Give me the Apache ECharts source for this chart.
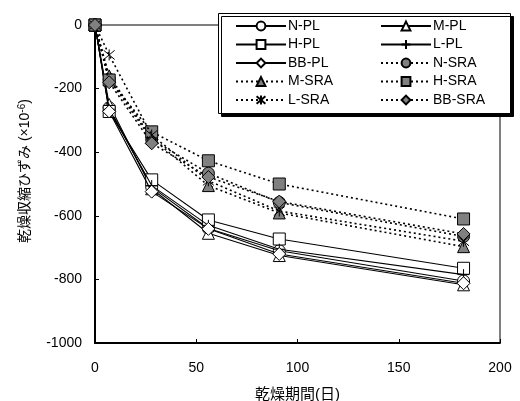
<!DOCTYPE html>
<html>
<head>
<meta charset="utf-8">
<script src="https://cdn.jsdelivr.net/npm/echarts@6/dist/echarts.min.js"></script>
<style>html,body{margin:0;padding:0;background:#fff}#c{width:520px;height:401px}</style>
</head>
<body>
<div id="c"></div>
<script>
const days = [0, 7, 28, 56, 91, 182];
const seriesNames = ['N-PL','M-PL','H-PL','L-PL','BB-PL','N-SRA','M-SRA','H-SRA','L-SRA','BB-SRA'];
const nPL   = [0, -260, -510, -640, -710, -805];
const mPL   = [0, -250, -515, -655, -725, -817];
const hPL   = [0, -272, -487, -613, -673, -765];
const lPL   = [0, -265, -505, -630, -705, -785];
const bbPL  = [0, -272, -524, -641, -720, -812];
const nSRA  = [0, -170, -360, -466, -558, -665];
const mSRA  = [0, -160, -355, -505, -591, -697];
const hSRA  = [0, -173, -336, -427, -500, -610];
const lSRA  = [0,  -94, -346, -490, -585, -680];
const bbSRA = [0, -180, -372, -478, -555, -657];
const xTicks = [0, 50, 100, 150, 200];
const yTicks = [0, -200, -400, -600, -800, -1000];

const values = [nPL, mPL, hPL, lPL, bbPL, nSRA, mSRA, hSRA, lSRA, bbSRA];
const PLUS = 'path://M5,0L5,10M0,5L10,5';
const STAR = 'path://M0,0L10,10M10,0L0,10M5,-1L5,11';
const symbols = ['circle','triangle','rect',PLUS,'diamond','circle','triangle','rect',STAR,'diamond'];
const FONT = '"Liberation Sans", Arial, "Noto Sans CJK JP", sans-serif';

const series = seriesNames.map((nm, i) => {
  const sra = i >= 5;
  const sym = symbols[i];
  const isPath = typeof sym === 'string' && sym.startsWith('path://');
  return {
    name: nm,
    type: 'line',
    data: days.map((d, k) => [d, values[i][k]]),
    symbol: sym,
    symbolSize: isPath ? 11 : (sym === 'diamond' ? 13 : 12),
    showAllSymbol: true,
    lineStyle: sra ? {color: '#000', width: 1.6, type: [2, 3]} : {color: '#000', width: 1.1, type: 'solid'},
    itemStyle: {color: sra ? '#808080' : '#fff', borderColor: '#000', borderWidth: 1},
    emphasis: {disabled: true},
    animation: false,
    z: 2 + i * 0.01
  };
});

const legendCommon = {
  orient: 'vertical',
  padding: 0,
  itemWidth: 50,
  itemHeight: 11,
  itemGap: 4.5,
  z: 10,
  textStyle: {fontFamily: FONT, fontSize: 14, color: '#000', lineHeight: 14, padding: [0, 0, 0, -3]},
  selectedMode: false
};

const chart = echarts.init(document.getElementById('c'), null, {renderer: 'canvas'});
chart.setOption({
  backgroundColor: '#fff',
  animation: false,
  grid: {left: 95, right: 20, top: 25, bottom: 58, show: true, borderColor: '#000', borderWidth: 1,
         backgroundColor: 'transparent', containLabel: false, outerBoundsMode: 'none'},
  xAxis: {
    type: 'value', min: 0, max: 200, interval: 50,
    name: '乾燥期間(日)', nameLocation: 'middle', nameGap: 44,
    nameTextStyle: {fontFamily: FONT, fontSize: 15, color: '#000'},
    axisLine: {show: true, onZero: false, lineStyle: {color: '#000', width: 2}},
    axisTick: {show: true, inside: true, length: 4, lineStyle: {color: '#000'}},
    axisLabel: {fontFamily: FONT, fontSize: 14, color: '#000', margin: 18},
    splitLine: {show: false}
  },
  yAxis: {
    type: 'value', min: -1000, max: 0, interval: 200,
    name: '乾燥収縮ひずみ (×10{sup|-6})', nameLocation: 'middle', nameGap: 62, nameRotate: 90,
    nameTextStyle: {fontFamily: FONT, fontSize: 14, color: '#000', padding: [0, 0, 0, 26],
      rich: {sup: {fontSize: 10, verticalAlign: 'top', padding: [0, 0, 6, 0], fontFamily: FONT, color: '#000'}}},
    axisLine: {show: true, onZero: false, lineStyle: {color: '#000', width: 2}},
    axisTick: {show: true, inside: true, length: 4, lineStyle: {color: '#000'}},
    axisLabel: {fontFamily: FONT, fontSize: 14, color: '#000', margin: 13, formatter: v => String(v)},
    splitLine: {show: false}
  },
  graphic: [{
    type: 'rect', z: 8, left: 218, top: 13,
    shape: {width: 292, height: 100},
    style: {fill: '#fff', stroke: '#000', lineWidth: 1, shadowColor: '#000', shadowOffsetX: 3, shadowOffsetY: 3, shadowBlur: 0}
  }],
  legend: [
    Object.assign({}, legendCommon, {left: 235, top: 19, data: ['N-PL','H-PL','BB-PL','M-SRA','L-SRA']}),
    Object.assign({}, legendCommon, {left: 380, top: 19, data: ['M-PL','L-PL','N-SRA','H-SRA','BB-SRA']})
  ],
  series: series
});
</script>
</body>
</html>
